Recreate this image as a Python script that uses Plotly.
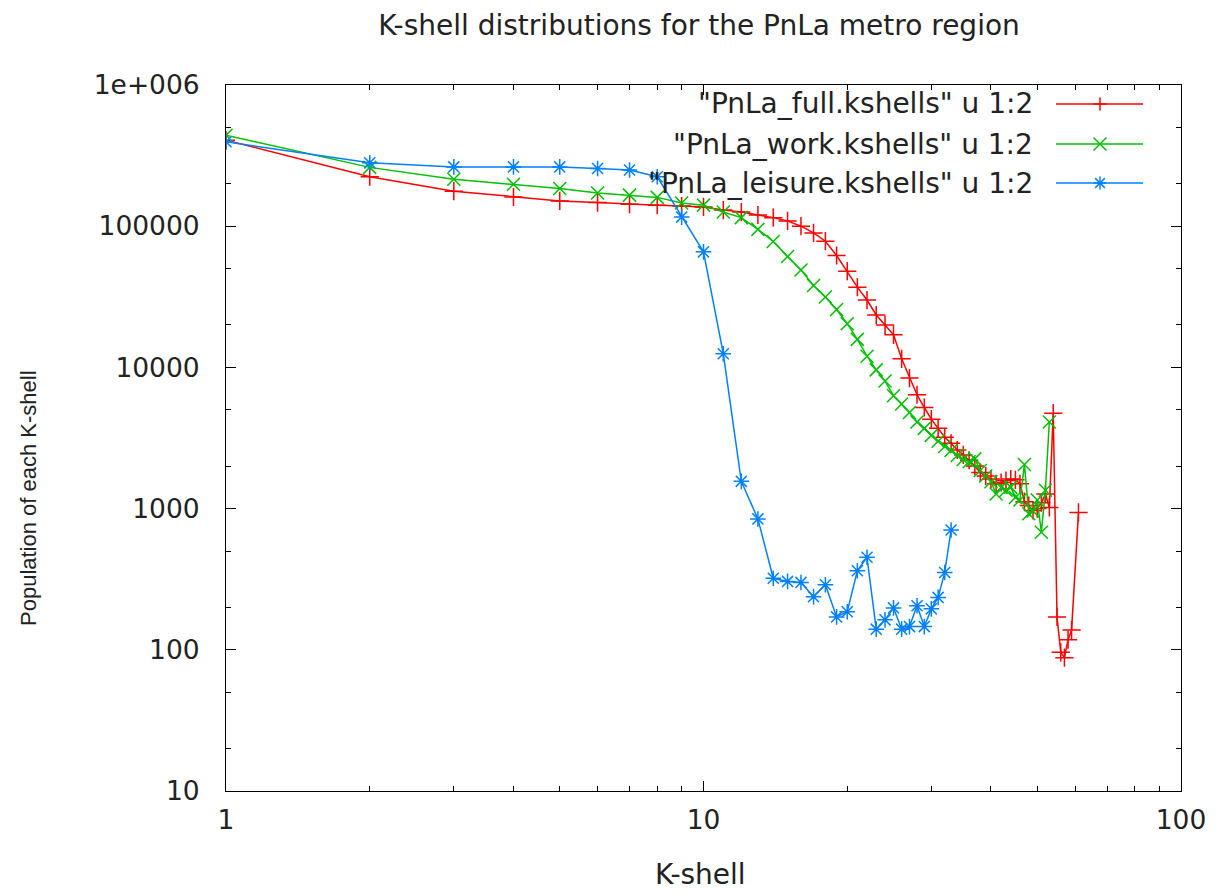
import plotly.graph_objects as go

# ---------------- data ----------------
k_full = list(range(1, 60)) + [61]
pop_full = [407000, 224000, 177000, 161000, 151000, 147000, 143000, 141000, 139000, 137000,
            130000, 126000, 120000, 115000, 109000, 100000, 89600, 78300, 62000, 48000,
            37000, 30000, 23500, 20000, 17000, 11500, 8400, 6400, 5200, 4300,
            3700, 3200, 2900, 2600, 2400, 2200, 2000, 1800, 1700, 1620,
            1500, 1530, 1580, 1620, 1600, 1500, 1120, 1050, 970, 1000,
            1100, 1270, 1020, 4740, 171, 96, 88, 118, 138, 940]

k_work = list(range(1, 54))
pop_work = [441000, 261000, 215000, 198000, 185000, 172000, 166000, 160000, 146000, 141000,
            126000, 115000, 95000, 78000, 61000, 49000, 38000, 31500, 25700, 20400,
            15800, 12000, 9600, 8000, 6300, 5500, 4800, 4100, 3700, 3300,
            3000, 2750, 2580, 2380, 2230, 2150, 2250, 1860, 1700, 1550,
            1270, 1410, 1350, 1420, 1200, 1150, 2050, 920, 960, 1150,
            680, 1350, 4100]

k_leisure = list(range(1, 34))
pop_leisure = [396000, 281000, 263000, 263000, 263000, 256000, 250000, 224000, 116000, 65800,
               12500, 1560, 845, 321, 305, 300, 238, 289, 171, 186,
               363, 452, 140, 163, 198, 140, 146, 205, 146, 195,
               235, 353, 706]

series_names = ['"PnLa_full.kshells" u 1:2', '"PnLa_work.kshells" u 1:2', '"PnLa_leisure.kshells" u 1:2']
series_colors = ["#ff0000", "#00c000", "#0080ff"]
series_symbols = ["cross-thin", "x-thin", "asterisk"]

x_tickvals = [1, 10, 100]
x_ticktext = ["1", "10", "100"]
y_tickvals = [10, 100, 1000, 10000, 100000, 1000000]
y_ticktext = ["10", "100", "1000", "10000", "100000", "1e+006"]

title_text = "K-shell distributions for the PnLa metro region"
x_title = "K-shell"
y_title = "Population of each K-shell"

# ---------------- figure ----------------
FONT = "DejaVu Sans"
FONT_V = "Liberation Sans"
TXT = "#222222"
OFF = 8  # page body margin
PAGE_W, PAGE_H = 1218, 892
FIG_W, FIG_H = PAGE_W - OFF, PAGE_H - OFF
# plot area in page pixels
L, R, T, B = 226, 1181, 85, 791
W, H = R - L, B - T


def px(x):
    return (x - L) / W


def py(y):
    return (B - y) / H


fig = go.Figure()
for xs, ys, name, col, sym in zip([k_full, k_work, k_leisure],
                                  [pop_full, pop_work, pop_leisure],
                                  series_names, series_colors, series_symbols):
    fig.add_trace(go.Scatter(
        x=xs, y=ys, mode="lines+markers", name=name, showlegend=False,
        line=dict(color=col, width=1.5),
        marker=dict(symbol=sym, size=13, color=col, line=dict(color=col, width=1.5)),
    ))

# minor ticks
x_minor = [m * 10 ** d for d in range(0, 2) for m in range(2, 10)]
y_minor = [m * 10 ** d for d in range(1, 6) for m in (2, 5)]

fig.update_xaxes(
    type="log", range=[0, 2], tickvals=x_tickvals, ticktext=x_ticktext,
    ticks="inside", ticklen=10, tickwidth=1, tickcolor="black",
    showline=True, linecolor="black", linewidth=1, mirror="allticks",
    showgrid=False, zeroline=False, ticklabelstandoff=5,
    tickfont=dict(family=FONT, size=26.5, color=TXT),
    minor=dict(tickvals=x_minor, ticks="inside", ticklen=5, tickcolor="black", showgrid=False),
)
fig.update_yaxes(
    type="log", range=[1, 6], tickvals=y_tickvals, ticktext=y_ticktext,
    ticks="inside", ticklen=10, tickwidth=1, tickcolor="black",
    showline=True, linecolor="black", linewidth=1, mirror="allticks",
    showgrid=False, zeroline=False, ticklabelstandoff=20,
    tickfont=dict(family=FONT, size=26.5, color=TXT),
    minor=dict(tickvals=y_minor, ticks="inside", ticklen=5, tickcolor="black", showgrid=False),
)

annotations = [
    dict(text=x_title, x=px(700), y=py(874), xref="paper", yref="paper",
         showarrow=False, xanchor="center", yanchor="middle",
         font=dict(family=FONT, size=28, color=TXT)),
    dict(text=y_title, x=px(29), y=py(498), xref="paper", yref="paper",
         showarrow=False, xanchor="center", yanchor="middle", textangle=-90,
         font=dict(family=FONT_V, size=22, color=TXT)),
]
shapes = []

# gnuplot-style legend (text, then sample line with marker)
rows = [104, 144, 183]
for i, (name, col) in enumerate(zip(series_names, series_colors)):
    yy = rows[i]
    annotations.append(dict(text=name, x=px(1035), y=py(yy), xref="paper", yref="paper",
                            showarrow=False, xanchor="right", yanchor="middle",
                            font=dict(family=FONT, size=28, color=TXT)))
    shapes.append(dict(type="line", xref="paper", yref="paper",
                       x0=px(1056), x1=px(1143), y0=py(yy), y1=py(yy),
                       line=dict(color=col, width=1.5)))
    cx, s = 1100, 6.5
    if i == 0:
        segs = [((cx - s, yy), (cx + s, yy)), ((cx, yy - s), (cx, yy + s))]
    elif i == 1:
        segs = [((cx - s, yy - s), (cx + s, yy + s)), ((cx - s, yy + s), (cx + s, yy - s))]
    else:
        segs = [((cx - s, yy), (cx + s, yy)), ((cx, yy - s), (cx, yy + s)),
                ((cx - s * 0.75, yy - s * 0.75), (cx + s * 0.75, yy + s * 0.75)),
                ((cx - s * 0.75, yy + s * 0.75), (cx + s * 0.75, yy - s * 0.75))]
    for (a, b) in segs:
        shapes.append(dict(type="line", xref="paper", yref="paper",
                           x0=px(a[0]), y0=py(a[1]), x1=px(b[0]), y1=py(b[1]),
                           line=dict(color=col, width=1.5)))

fig.update_layout(
    width=FIG_W, height=FIG_H,
    margin=dict(l=L - OFF, r=FIG_W - (R - OFF), t=T - OFF, b=FIG_H - (B - OFF)),
    paper_bgcolor="white", plot_bgcolor="white",
    title=dict(text=title_text, x=(699 - OFF) / FIG_W, xanchor="center",
               y=1 - (25 - OFF) / FIG_H, yanchor="middle", yref="container",
               font=dict(family=FONT, size=28, color=TXT)),
    annotations=annotations, shapes=shapes, showlegend=False,
)

fig.write_html("out.html")
